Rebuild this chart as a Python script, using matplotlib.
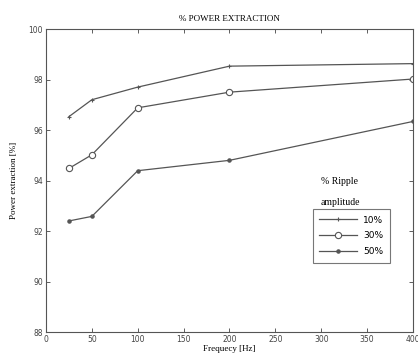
import matplotlib
matplotlib.use("Agg")
import matplotlib.pyplot as plt

freq = [25, 50, 100, 200, 400]
ripple_10 = [96.53, 97.2, 97.7, 98.53, 98.63]
ripple_30 = [94.48, 95.02, 96.88, 97.5, 98.02]
ripple_50 = [92.4, 92.58, 94.39, 94.8, 96.34]
labels = ['10%', '30%', '50%']

serif = 'Liberation Serif'
lc = '#555555'

fig = plt.figure(figsize=(4.18, 3.54), dpi=100)
ax = fig.add_axes([0.110, 0.062, 0.878, 0.856])

ax.plot(freq, ripple_10, color=lc, lw=0.9, marker='+', ms=3.5, mew=0.8, label=labels[0])
ax.plot(freq, ripple_30, color=lc, lw=0.9, marker='o', ms=4.5, mfc='white', mew=0.8, label=labels[1])
ax.plot(freq, ripple_50, color=lc, lw=0.9, marker='.', ms=4.5, label=labels[2])

ax.set_xlim(0, 400)
ax.set_ylim(88, 100)
ax.set_xticks(range(0, 401, 50))
ax.set_yticks(range(88, 101, 2))
ax.tick_params(direction='in', top=True, right=True, length=3, width=0.6,
               labelsize=5.5, colors='#444444', pad=2)
for s in ax.spines.values():
    s.set_color('#555555')
    s.set_linewidth(0.8)

ax.set_title('% POWER EXTRACTION', fontfamily=serif, fontsize=6.5, pad=6)
ax.set_xlabel('Frequecy [Hz]', fontfamily=serif, fontsize=6.5, labelpad=1)
ax.set_ylabel('Power extraction [%]', fontfamily=serif, fontsize=6.5, labelpad=8)

ax.text(0.749, 0.488, '% Ripple', transform=ax.transAxes, fontfamily=serif, fontsize=7)
ax.text(0.749, 0.419, 'amplitude', transform=ax.transAxes, fontfamily=serif, fontsize=7)
leg = ax.legend(loc='upper left', bbox_to_anchor=(0.727, 0.405), fontsize=6.5,
                frameon=True, fancybox=False, edgecolor='#555555',
                handlelength=4.2, borderpad=0.7, labelspacing=0.75,
                handletextpad=0.7, borderaxespad=0)
leg.get_frame().set_linewidth(0.8)

fig.savefig('out.png', dpi=100)
